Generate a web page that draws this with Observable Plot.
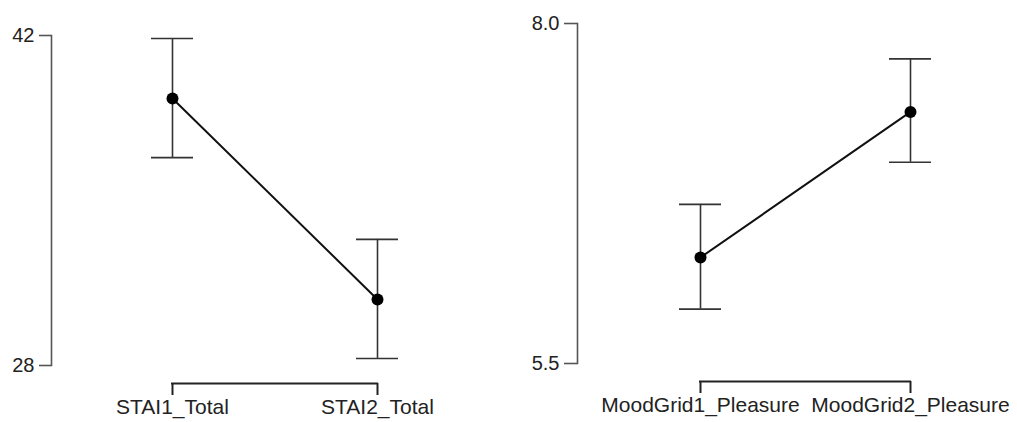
<!DOCTYPE html>
<html>
<head>
<meta charset="utf-8">
<script src="https://cdn.jsdelivr.net/npm/d3@7"></script>
<script src="https://cdn.jsdelivr.net/npm/@observablehq/plot@0.6"></script>
<style>
  html, body { margin: 0; padding: 0; background: #fff; }
  #chart { position: relative; width: 1017px; height: 422px; overflow: hidden; }
  #chart > div, #chart > svg { position: absolute; top: 0; }
  svg { overflow: visible; }
</style>
</head>
<body>
<div id="chart"></div>
<script>
// ---- Data ----
const staiCats = ["STAI1_Total", "STAI2_Total"];
const staiMean = [39.33, 30.80];
const staiLow  = [36.82, 28.30];
const staiHigh = [41.87, 33.35];
const staiTicks = [28, 42];

const moodCats = ["MoodGrid1_Pleasure", "MoodGrid2_Pleasure"];
const moodMean = [6.28, 7.35];
const moodLow  = [5.90, 6.98];
const moodHigh = [6.67, 7.74];
const moodTicks = [5.5, 8.0];

function panel({cats, mean, low, high, ticks, fmt, width, marginLeft, marginTop, marginBottom, xRange, yTickSize, yTickPad}) {
  const rows = cats.map((c, i) => ({cat: c, mean: mean[i], low: low[i], high: high[i]}));
  const bracket = [{a: cats[0], b: cats[cats.length - 1], y: ticks[0]}];
  return Plot.plot({
    width, height: 422,
    marginLeft, marginTop, marginBottom, marginRight: 0,
    style: {fontFamily: "'Liberation Sans', Arial, sans-serif", color: "#222", background: "transparent", overflow: "visible"},
    x: {type: "point", domain: cats, range: xRange, padding: 0},
    y: {domain: [ticks[0], ticks[ticks.length - 1]]},
    marks: [
      Plot.frame({anchor: "left", stroke: "#555", strokeWidth: 1.6}),
      Plot.axisY({ticks, tickFormat: fmt, tickSize: yTickSize, tickPadding: yTickPad, fontSize: 20, stroke: "#555", fill: "#222", strokeWidth: 1.6, label: null}),
      Plot.axisX({tickSize: 12, dy: 18, tickPadding: 4, fontSize: 21, stroke: "#222", fill: "#222", strokeWidth: 2, label: null}),
      Plot.ruleY(bracket, {x1: "a", x2: "b", y: "y", dy: 18, stroke: "#222", strokeWidth: 2, insetLeft: -1, insetRight: -1}),
      Plot.ruleX(rows, {x: "cat", y1: "low", y2: "high", stroke: "#333", strokeWidth: 1.6}),
      Plot.ruleY(rows, {x1: "cat", x2: "cat", y: "low", stroke: "#333", strokeWidth: 1.6, insetLeft: -21, insetRight: -21}),
      Plot.ruleY(rows, {x1: "cat", x2: "cat", y: "high", stroke: "#333", strokeWidth: 1.6, insetLeft: -21, insetRight: -21}),
      Plot.line(rows, {x: "cat", y: "mean", stroke: "#111", strokeWidth: 2}),
      Plot.dot(rows, {x: "cat", y: "mean", r: 6, fill: "#000", stroke: "none"})
    ]
  });
}

const left = panel({
  cats: staiCats, mean: staiMean, low: staiLow, high: staiHigh, ticks: staiTicks, fmt: "d",
  width: 508, marginLeft: 51, marginTop: 35, marginBottom: 57, xRange: [172, 377],
  yTickSize: 12, yTickPad: 5
});
const right = panel({
  cats: moodCats, mean: moodMean, low: moodLow, high: moodHigh, ticks: moodTicks, fmt: ".1f",
  width: 509, marginLeft: 69, marginTop: 23, marginBottom: 59, xRange: [192, 402],
  yTickSize: 13, yTickPad: 5
});
left.style.left = "0px";
right.style.left = "508px";
const chart = document.getElementById("chart");
chart.appendChild(left);
chart.appendChild(right);
</script>
</body>
</html>
